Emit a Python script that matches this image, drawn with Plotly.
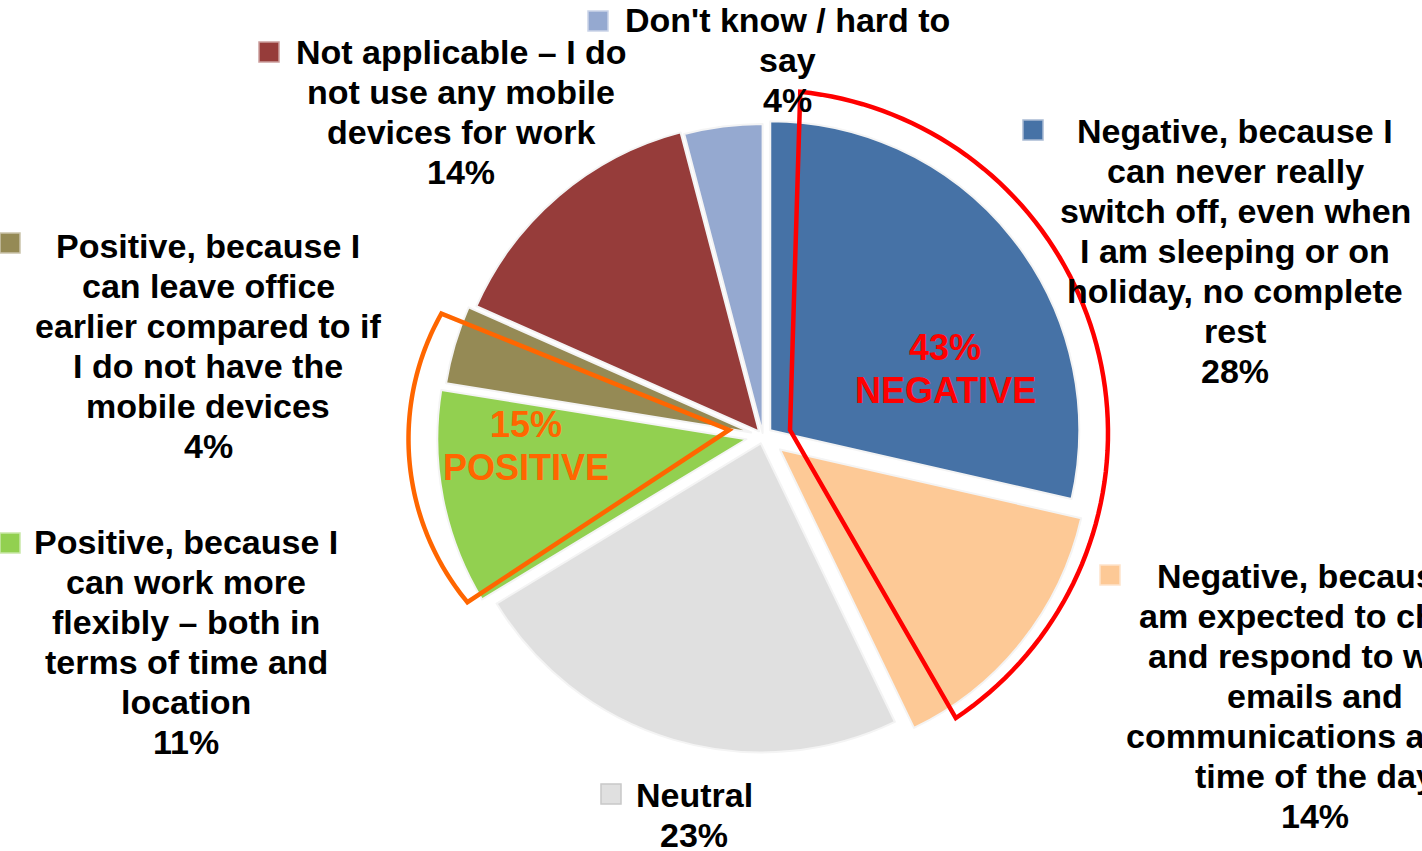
import numpy as np
import plotly.graph_objects as go

# ---- data -------------------------------------------------------------
label_lines = [
    ["Negative, because I", "can never really", "switch off, even when",
     "I am sleeping or on", "holiday, no complete", "rest"],
    ["Negative, because I", "am expected to check", "and respond to work",
     "emails and", "communications at any", "time of the day"],
    ["Neutral"],
    ["Positive, because I", "can work more", "flexibly – both in",
     "terms of time and", "location"],
    ["Positive, because I", "can leave office", "earlier compared to if",
     "I do not have the", "mobile devices"],
    ["Not applicable – I do", "not use any mobile", "devices for work"],
    ["Don't know / hard to", "say"],
]
categories = [" ".join(lines) for lines in label_lines]
shares = [28, 14, 23, 11, 4, 14, 4]

group_names = ["NEGATIVE", "POSITIVE"]
group_totals = [43, 15]

# ---- style ------------------------------------------------------------
W, H = 1422, 851
colors = ["#4672A6", "#FDC996", "#E0E0E0", "#92D050", "#958A55", "#963C3A", "#95A9D0"]
key_borders = ["#A9BBD3", "#FEE4CB", "#C8C8C8", "#C9E8A8", "#CAC4AA", "#CB9E9D", "#CAD4E8"]
pulls = [0.03, 0.07, 0.025, 0.055, 0.04, 0.02, 0.01]

pie_cx, pie_cy, pie_r = 763, 436, 309

# label block anchors (centre x, middle of first line y) and legend keys
label_anchor = [(1235, 131), (1315, 576), (694, 795), (186, 542),
                (208, 246), (461, 52), (787, 20)]
key_boxes = [(1023, 120), (1100, 565), (601, 784), (0, 533),
             (0, 233), (259, 42), (588, 11)]
line_pitch = 40
FONT = "Liberation Sans, Arial, sans-serif"


def px(x):
    return x / W


def py(y):
    return 1 - y / H


half = pie_r * (1 + max(pulls))
fig = go.Figure(
    go.Pie(
        values=shares,
        labels=categories,
        sort=False,
        direction="clockwise",
        rotation=0,
        pull=pulls,
        marker=dict(colors=colors, line=dict(color="#F4F4F4", width=2)),
        textinfo="none",
        hoverinfo="skip",
        showlegend=False,
        domain=dict(x=[px(pie_cx - half), px(pie_cx + half)],
                    y=[py(pie_cy + half), py(pie_cy - half)]),
    )
)

# data labels, one annotation per text line
for i, lines in enumerate(label_lines):
    ax, ay = label_anchor[i]
    for j, t in enumerate(lines + [f"{shares[i]}%"]):
        fig.add_annotation(
            x=px(ax), y=py(ay + j * line_pitch), xref="paper", yref="paper",
            text=t, showarrow=False, xanchor="center", yanchor="middle",
            font=dict(family=FONT, size=34, color="#000000", weight="bold"),
        )

# legend keys beside each label
shapes = []
for i, (kx, ky) in enumerate(key_boxes):
    shapes.append(dict(
        type="rect", xref="paper", yref="paper",
        x0=px(kx), x1=px(kx + 20), y0=py(ky + 20), y1=py(ky),
        fillcolor=colors[i], line=dict(color=key_borders[i], width=1.5),
    ))


def wedge_path(apex, centre, radius, a0, a1, n=80):
    """Closed outline: apex -> arc (clockwise from a0 to a1 deg) -> apex."""
    th = np.radians(np.linspace(a0, a1, n))
    xs = centre[0] + radius * np.sin(th)
    ys = centre[1] - radius * np.cos(th)
    pts = [apex] + list(zip(xs, ys))
    d = "M " + " L ".join(f"{px(x):.5f},{py(y):.5f}" for x, y in pts) + " Z"
    return d


shapes.append(dict(type="path", xref="paper", yref="paper",
                   path=wedge_path((790, 430), (765, 433), 343, 5.9, 146.2),
                   line=dict(color="#FF0000", width=4.5), layer="above"))
shapes.append(dict(type="path", xref="paper", yref="paper",
                   path=wedge_path((729, 430), (664, 439), 255.5, 230.3, 299.4),
                   line=dict(color="#FF6600", width=4.5), layer="above"))

# group totals inside the outlines
group_pos = [(945, 347), (526, 424)]
group_colors = ["#FF0000", "#FF6600"]
for (gx, gy), name, tot, col in zip(group_pos, group_names, group_totals, group_colors):
    for j, t in enumerate([f"{tot}%", name]):
        fig.add_annotation(
            x=px(gx), y=py(gy + j * 43), xref="paper", yref="paper",
            text=t, showarrow=False, xanchor="center", yanchor="middle",
            font=dict(family=FONT, size=36, color=col, weight="bold"),
        )

fig.update_layout(
    width=W, height=H,
    margin=dict(l=0, r=0, t=0, b=0),
    paper_bgcolor="#FFFFFF", plot_bgcolor="#FFFFFF",
    shapes=shapes,
    showlegend=False,
)

fig.write_html("out.html")
